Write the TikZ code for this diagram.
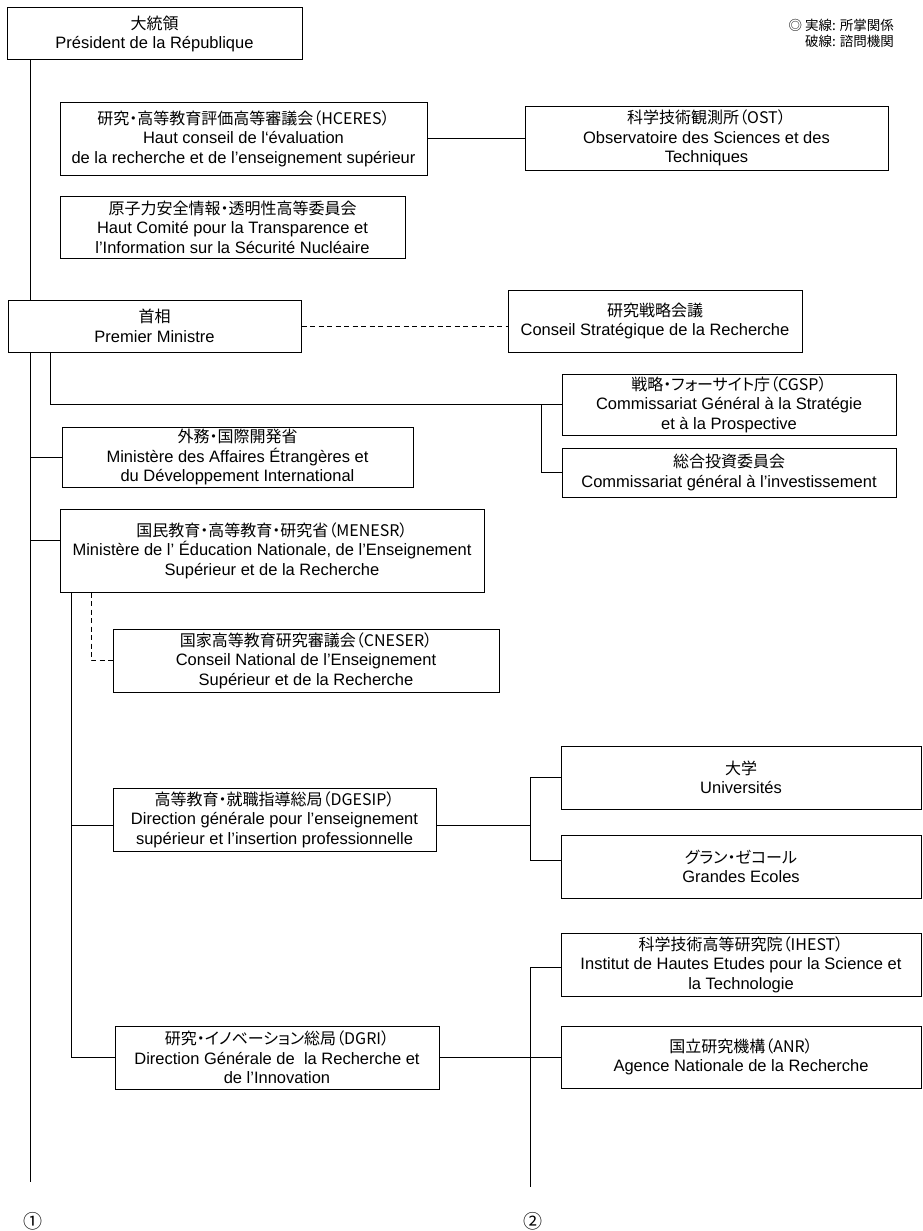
\documentclass[tikz,border=0pt]{standalone}
\usepackage{fontspec}
\setmainfont{Liberation Sans}
\newfontfamily\jpfont{Noto Sans CJK JP}[RawFeature=+palt]
\newcommand\J[1]{{\jpfont\fontsize{16}{19.5}\selectfont #1}}
\newcommand\boxat[6]{\node[orgbox, minimum width={#4-#2}, minimum height={#5-#3}] (#1) at ({(#2+#4)/2},{(#3+#5)/2}) {#6};}
\tikzset{
  orgbox/.style={draw, fill=white, line width=1pt, inner sep=0pt, align=center,
    font=\fontsize{16.5}{19.5}\selectfont},
  link/.style={line width=1pt},
  advice/.style={line width=1pt, dash pattern=on 5pt off 3.5pt},
}
\begin{document}
\begin{tikzpicture}[x=1pt,y=-1pt]
\useasboundingbox (0,0) rectangle (922,1231);
% boxes
\boxat{P}{7}{8}{302}{60}{\J{大統領}\\Président de la République}
\boxat{H}{60}{102}{427}{175}{\J{研究・高等教育評価高等審議会（HCERES）}\\Haut conseil de l‘évaluation\\de la recherche et de l’enseignement supérieur}
\boxat{O}{525}{106}{888}{170}{\J{科学技術観測所（OST）}\\Observatoire des Sciences et des\\Techniques}
\boxat{N}{60}{196}{405}{258}{\J{原子力安全情報・透明性高等委員会}\\Haut Comité pour la Transparence et\\l’Information sur la Sécurité Nucléaire}
\boxat{PM}{8}{300}{301}{352}{\J{首相}\\Premier Ministre}
\boxat{CSR}{508}{290}{802}{352}{\J{研究戦略会議}\\Conseil Stratégique de la Recherche}
\boxat{CG}{562}{374}{896}{435}{\J{戦略・フォーサイト庁（CGSP）}\\Commissariat Général à la Stratégie\\et à la Prospective}
\boxat{CI}{562}{448}{896}{497}{\J{総合投資委員会}\\Commissariat général à l'investissement}
\boxat{FA}{62}{427}{413}{487}{\J{外務・国際開発省}\\Ministère des Affaires Étrangères et\\du Développement International}
\boxat{ME}{60}{509}{484}{592}{\J{国民教育・高等教育・研究省（MENESR）}\\Ministère de l’ Éducation Nationale, de l’Enseignement\\Supérieur et de la Recherche}
\boxat{CN}{113}{629}{499}{692}{\J{国家高等教育研究審議会（CNESER）}\\Conseil National de l’Enseignement\\Supérieur et de la Recherche}
\boxat{DG}{113}{788}{436}{851}{\J{高等教育・就職指導総局（DGESIP）}\\Direction générale pour l'enseignement\\supérieur et l’insertion professionnelle}
\boxat{UN}{561}{746}{921}{809}{\J{大学}\\Universités}
\boxat{GE}{561}{835}{921}{898}{\J{グラン・ゼコール}\\Grandes Ecoles}
\boxat{IH}{561}{933}{921}{996}{\J{科学技術高等研究院（IHEST）}\\Institut de Hautes Etudes pour la Science et\\la Technologie}
\boxat{AN}{561}{1026}{921}{1088}{\J{国立研究機構（ANR）}\\Agence Nationale de la Recherche}
\boxat{DR}{115}{1026}{439}{1089}{\J{研究・イノベーション総局（DGRI）}\\Direction Générale de~ la Recherche et\\de l’Innovation}
% legend and page marks
\node[anchor=north east, align=right, inner sep=0pt, font=\jpfont\fontsize{13.5}{16}\selectfont] (legend) at (894,19) {◎ 実線: 所掌関係\\破線: 諮問機関};
\node[inner sep=0pt, font=\jpfont\fontsize{19}{20}\selectfont] (c1) at (33,1221) {①};
\node[inner sep=0pt, font=\jpfont\fontsize{19}{20}\selectfont] (c2) at (533,1221) {②};
% junction coordinates
\coordinate (trunk) at (30,1182);
\coordinate (pmx) at (50,403);
\coordinate (cgx) at (541,403);
\coordinate (mex) at (71,0);
\coordinate (dx) at (91,0);
\coordinate (rbar) at (530,0);
\coordinate (rend) at (530,1187);
% trunk
\draw[link] (P.south -| trunk) -- (PM.north -| trunk);
\draw[link] (PM.south -| trunk) -- (trunk);
\draw[link] (FA.west -| trunk) -- (FA.west);
\draw[link] ([yshift=10.5pt]ME.west -| trunk) -- ([yshift=10.5pt]ME.west);
% HCERES - OST
\draw[link] (H.east) -- (H.east -| O.west);
% PM
\draw[advice] (PM.east) -- (PM.east -| CSR.west);
\draw[link] (PM.south -| pmx) |- (CG.west);
\draw[link] (CG.west -| cgx) |- (CI.west);
% MENESR
\draw[advice] (ME.south -| dx) |- (CN.west);
\draw[link] (ME.south -| mex) |- (DR.west);
\draw[link] ([yshift=-5.5pt]DG.west -| mex) -- ([yshift=-5.5pt]DG.west);
% DGESIP
\draw[link] ([yshift=-5.5pt]DG.east) -- ([yshift=-5.5pt]DG.east -| rbar);
\draw[link] (UN.west) -- (UN.west -| rbar) -- ([yshift=6.5pt]GE.west -| rbar) -- ([yshift=6.5pt]GE.west);
% DGRI
\draw[link] ([yshift=-3pt]IH.west) -- ([yshift=-3pt]IH.west -| rbar) -- (rend);
\draw[link] (AN.west -| rbar) -- (AN.west);
\draw[link] (DR.east) -- (DR.east -| rbar);
\end{tikzpicture}
\end{document}
